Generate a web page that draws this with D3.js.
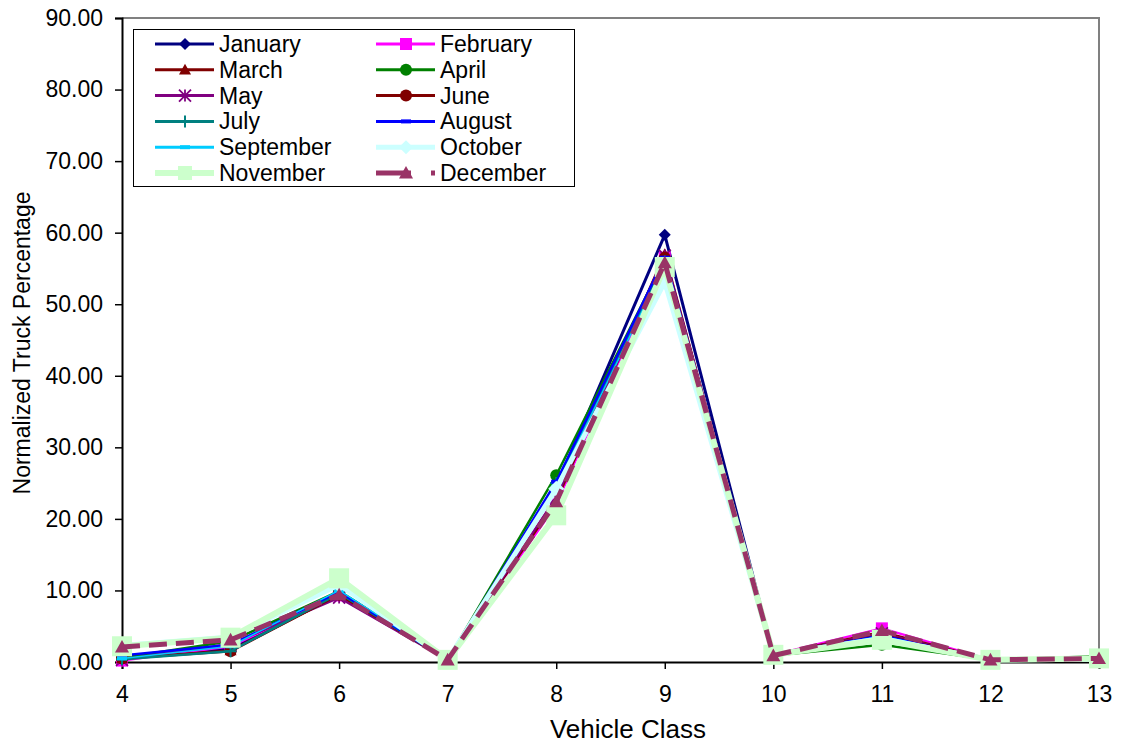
<!DOCTYPE html>
<html><head><meta charset="utf-8">
<script src="https://cdn.jsdelivr.net/npm/d3@7"></script>
<style>body{margin:0;background:#fff}svg{font-family:Arial,"Liberation Sans",sans-serif}</style>
</head><body><svg id="c" width="1123" height="745"></svg>
<script>
const categories = [4,5,6,7,8,9,10,11,12,13];
const yTicks = [0,10,20,30,40,50,60,70,80,90];
const months = ["January","February","March","April","May","June","July","August","September","October","November","December"];
const January   = [0.8,1.8,9.5,0.3,24.5,59.7,1.0,3.9,0.3,0.6];
const February  = [0.2,2.2,9.3,0.3,22.0,56.5,1.0,4.7,0.3,0.6];
const March     = [0.5,1.6,9.4,0.3,22.5,57.0,1.0,4.2,0.3,0.6];
const April     = [0.6,2.9,9.9,0.3,26.1,56.3,0.9,2.4,0.3,0.8];
const May       = [0.3,2.5,9.0,0.3,23.0,56.8,1.0,4.0,0.3,0.6];
const June      = [0.5,1.5,9.4,0.3,24.0,56.5,1.0,3.8,0.3,0.6];
const July      = [0.4,1.5,9.6,0.3,25.0,56.0,1.0,3.5,0.3,0.5];
const August    = [0.9,2.4,9.8,0.3,25.2,56.5,1.0,3.7,0.3,0.5];
const September = [0.5,2.2,10.0,0.3,24.5,55.5,1.0,3.6,0.3,0.4];
const October   = [2.3,3.5,10.8,0.3,24.2,53.1,1.0,3.3,0.3,0.4];
const November  = [2.2,3.4,11.7,0.3,20.5,55.2,1.0,3.1,0.3,0.5];
const December  = [2.1,3.1,9.4,0.3,22.4,55.8,0.9,4.4,0.3,0.5];
const seriesValues = [January,February,March,April,May,June,July,August,September,October,November,December];

const styles = [
  {c:"#000080", w:3, m:"diamond", ms:6},
  {c:"#FF00FF", w:2.5, m:"square", ms:6},
  {c:"#800000", w:2.5, m:"triangle", ms:6},
  {c:"#008000", w:2.5, m:"circle", ms:6},
  {c:"#800080", w:2.5, m:"asterisk", ms:6},
  {c:"#800000", w:2.5, m:"circle", ms:6},
  {c:"#008080", w:2.5, m:"plus", ms:6},
  {c:"#0000FF", w:2.5, m:"dash", ms:5},
  {c:"#00CCFF", w:1.5, m:"dash", ms:5},
  {c:"#CCFFFF", w:5, m:"diamond", ms:8},
  {c:"#CCFFCC", w:6, m:"square", ms:10},
  {c:"#993366", w:5, m:"triangle", ms:7, dash:"18,9"}
];

const svg = d3.select("#c");
const L=122, R=1099, T=18, B=662;
const x = d3.scalePoint().domain(categories).range([L,R]);
const y = d3.scaleLinear().domain([0,90]).range([B,T]);

svg.append("path").attr("d",`M${L},${T}H${R}V${B}`).attr("fill","none").attr("stroke","#808080").attr("stroke-width",2);

const yAx = svg.append("g").attr("transform",`translate(${L},0)`)
  .call(d3.axisLeft(y).tickValues(yTicks).tickSize(7).tickPadding(12).tickFormat(d3.format(".2f")));
const xAx = svg.append("g").attr("transform",`translate(0,${B})`)
  .call(d3.axisBottom(x).tickSize(7).tickPadding(17));
[yAx,xAx].forEach(g=>{
  g.select(".domain").attr("stroke","#000").attr("stroke-width",2);
  g.selectAll(".tick line").attr("stroke","#000").attr("stroke-width",1.5);
  g.selectAll("text").attr("font-size",23).attr("font-family","Arial, 'Liberation Sans', sans-serif").attr("fill","#000");
});

svg.append("text").attr("x",628).attr("y",738).attr("text-anchor","middle")
  .attr("font-size",26).text("Vehicle Class");
svg.append("text").attr("transform",`translate(30,343) rotate(-90)`).attr("text-anchor","middle")
  .attr("font-size",23).text("Normalized Truck Percentage");

function marker(g, type, cx, cy, s, color){
  if(type==="diamond") g.append("path").attr("d",`M${cx},${cy-s}L${cx+s},${cy}L${cx},${cy+s}L${cx-s},${cy}Z`).attr("fill",color);
  else if(type==="square") g.append("rect").attr("x",cx-s).attr("y",cy-s).attr("width",2*s).attr("height",2*s).attr("fill",color);
  else if(type==="triangle") g.append("path").attr("d",`M${cx},${cy-s}L${cx+s},${cy+s*0.8}L${cx-s},${cy+s*0.8}Z`).attr("fill",color);
  else if(type==="circle") g.append("circle").attr("cx",cx).attr("cy",cy).attr("r",s).attr("fill",color);
  else if(type==="asterisk"){
    const p=`M${cx-s},${cy-s}L${cx+s},${cy+s}M${cx-s},${cy+s}L${cx+s},${cy-s}M${cx},${cy-s}V${cy+s}`;
    g.append("path").attr("d",p).attr("stroke",color).attr("stroke-width",1.8).attr("fill","none");
  }
  else if(type==="plus") g.append("path").attr("d",`M${cx},${cy-s}V${cy+s}M${cx-s},${cy}H${cx+s}`).attr("stroke",color).attr("stroke-width",2).attr("fill","none");
  else if(type==="dash") g.append("rect").attr("x",cx-s).attr("y",cy-2).attr("width",2*s).attr("height",4).attr("fill",color);
}

const line = d3.line().x((d,i)=>x(categories[i])).y(d=>y(d));
seriesValues.forEach((vals,k)=>{
  const st=styles[k];
  const g=svg.append("g");
  g.append("path").attr("d",line(vals)).attr("fill","none").attr("stroke",st.c)
    .attr("stroke-width",st.w).attr("stroke-dasharray",st.dash||null).attr("stroke-linejoin","round");
  vals.forEach((v,i)=>marker(g,st.m,x(categories[i]),y(v),st.ms,st.c));
});

const lg = svg.append("g");
lg.append("rect").attr("x",133.5).attr("y",29.5).attr("width",441).attr("height",157).attr("fill","#fff").attr("stroke","#000").attr("stroke-width",1);
months.forEach((m,k)=>{
  const col=k%2, row=Math.floor(k/2);
  const lx = col===0?155:376, ty = 44+row*25.8;
  const st=styles[k];
  const g=lg.append("g");
  g.append("line").attr("x1",lx).attr("x2",lx+59).attr("y1",ty).attr("y2",ty).attr("stroke",st.c)
    .attr("stroke-width",Math.max(st.w,3)).attr("stroke-dasharray",st.dash?"35,20":null);
  marker(g,st.m,lx+30,ty,Math.min(st.ms,7),st.c);
  g.append("text").attr("x",lx+64).attr("y",ty+8).attr("font-size",23).text(m);
});
</script></body></html>
